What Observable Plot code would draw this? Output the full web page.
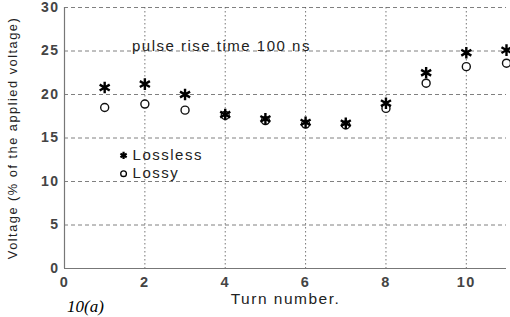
<!DOCTYPE html>
<html>
<head>
<meta charset="utf-8">
<script src="https://cdn.jsdelivr.net/npm/d3@7"></script>
<script src="https://cdn.jsdelivr.net/npm/@observablehq/plot@0.6"></script>
<style>
  html, body { margin: 0; padding: 0; background: #fff; overflow: hidden; }
  #wrap { position: relative; width: 510px; height: 317px; }
  #fig { position: absolute; left: 67px; top: 297px; font: italic 17px/19px "Liberation Serif", serif; color: #000; }
</style>
</head>
<body>
<div id="wrap"><div id="chart"></div><div id="fig">10(a)</div></div>
<script>
const turns = [1, 2, 3, 4, 5, 6, 7, 8, 9, 10, 11];
const lossless = [20.8, 21.2, 20.0, 17.7, 17.2, 16.8, 16.7, 19.0, 22.5, 24.8, 25.1];
const lossy = [18.5, 18.9, 18.2, 17.6, 17.0, 16.6, 16.5, 18.4, 21.3, 23.2, 23.6];
const xTicks = [0, 2, 4, 6, 8, 10];
const yTicks = [0, 5, 10, 15, 20, 25, 30];
const legendItems = [
  {name: "Lossless", x: 1.47, y: 13.0, symbol: "asterisk"},
  {name: "Lossy", x: 1.47, y: 10.9, symbol: "circle"}
];
const note = [{x: 1.68, y: 25.6, text: "pulse rise time 100 ns"}];

const lossRows = turns.map((t, i) => ({turn: t, v: lossless[i]}));
const lossyRows = turns.map((t, i) => ({turn: t, v: lossy[i]}));

const chart = Plot.plot({
  width: 510,
  height: 317,
  marginLeft: 64,
  marginRight: 4,
  marginTop: 7,
  marginBottom: 49,
  style: {fontFamily: "Liberation Sans, Arial, sans-serif", fontSize: "13px", color: "#333", background: "#fff", letterSpacing: "1.5px"},
  x: {domain: [0, 11], ticks: xTicks, label: null},
  y: {domain: [0, 30], ticks: yTicks, label: null},
  marks: [
    Plot.gridY(yTicks.filter(d => d > 0), {stroke: "#555", strokeOpacity: 0.75, strokeDasharray: "4,3", strokeWidth: 1}),
    Plot.gridX(xTicks.filter(d => d > 0), {stroke: "#555", strokeOpacity: 0.8, strokeDasharray: "1.5,2.5", strokeWidth: 1}),
    Plot.ruleX([0], {stroke: "#777", strokeWidth: 1.2}),
    Plot.ruleY([0], {stroke: "#777", strokeWidth: 1.2}),
    Plot.axisX(xTicks, {tickSize: 0, tickPadding: 8, fontSize: 14.5, fontWeight: "bold", fill: "#444", label: null}),
    Plot.axisY(yTicks, {tickSize: 0, tickPadding: 5, fontSize: 14, fontWeight: "bold", fill: "#444", label: null}),
    Plot.text(["Turn number."], {frameAnchor: "bottom", dy: 35, dx: 0, fontSize: 15.5, fill: "#222"}),
    Plot.text(["Voltage (% of the applied voltage)"], {frameAnchor: "left", dx: -52, rotate: -90, textAnchor: "middle", fontSize: 12.8, fill: "#222"}),
    Plot.text(note, {x: "x", y: "y", text: "text", textAnchor: "start", fontSize: 15, fill: "#222"}),
    Plot.dot(lossyRows, {x: "turn", y: "v", symbol: "circle", r: 4, stroke: "#111", strokeWidth: 1.4, fill: "white"}),
    Plot.dot(lossRows, {x: "turn", y: "v", symbol: "asterisk", r: 5.5, stroke: "#000", strokeWidth: 2.4}),
    Plot.dot(legendItems, {x: "x", y: "y", symbol: "symbol", r: d => d.symbol === "circle" ? 3.5 : 5, stroke: "#000", strokeWidth: d => d.symbol === "circle" ? 1.3 : 2.2, fill: "white"}),
    Plot.text(legendItems, {x: "x", y: "y", text: "name", dx: 9, textAnchor: "start", fontSize: 15, fill: "#222"})
  ]
});
document.getElementById("chart").appendChild(chart);
</script>
</body>
</html>
